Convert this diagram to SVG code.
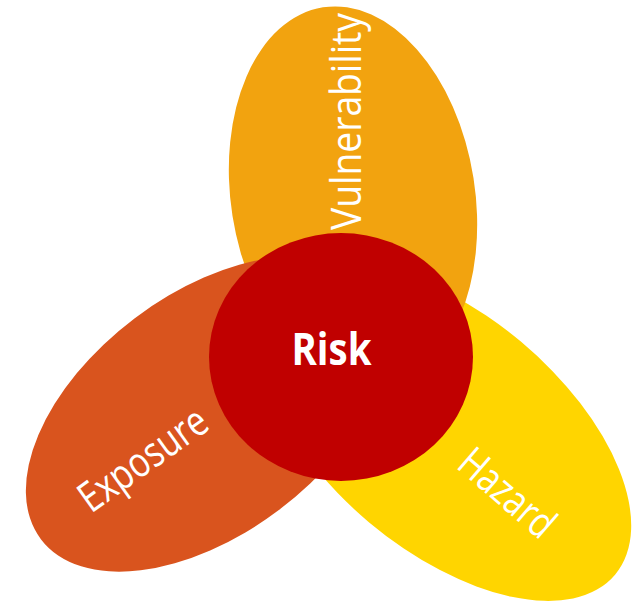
<svg xmlns="http://www.w3.org/2000/svg" width="634" height="607" viewBox="0 0 634 607">
  <style>
    .label { fill: #ffffff; font-family: "Open Sans", "Noto Sans", "Liberation Sans", sans-serif; font-size: 42px; }
    .core { fill: #ffffff; font-family: "Open Sans", "Noto Sans", "Liberation Sans", sans-serif; font-size: 44px; font-weight: bold; }
  </style>
  <rect width="634" height="607" fill="#ffffff"/>

  <!-- Hazard petal (lowest layer) -->
  <g id="hazard">
    <ellipse cx="445" cy="432" rx="222" ry="118" transform="rotate(40 445 432)" fill="#FFD500"/>
    <text class="label" transform="translate(455 467) rotate(40.8)" textLength="113" lengthAdjust="spacingAndGlyphs">Hazard</text>
  </g>

  <!-- Vulnerability petal -->
  <g id="vulnerability">
    <ellipse cx="353" cy="197" rx="122" ry="192" transform="rotate(-9 353 197)" fill="#F2A30F"/>
    <text class="label" transform="translate(360.5 230) rotate(-90)" textLength="217" lengthAdjust="spacingAndGlyphs">Vulnerability</text>
  </g>

  <!-- Exposure petal -->
  <g id="exposure">
    <ellipse cx="207" cy="414" rx="208" ry="120" transform="rotate(-37 207 414)" fill="#D9541E"/>
    <text class="label" transform="translate(91 514) rotate(-35.5)" textLength="148" lengthAdjust="spacingAndGlyphs">Exposure</text>
  </g>

  <!-- Risk core -->
  <g id="risk">
    <ellipse cx="341" cy="357" rx="132" ry="124" fill="#C00000"/>
    <text class="core" x="331.5" y="365" text-anchor="middle" textLength="80" lengthAdjust="spacingAndGlyphs">Risk</text>
  </g>

  <g id="connectors"/>
</svg>
